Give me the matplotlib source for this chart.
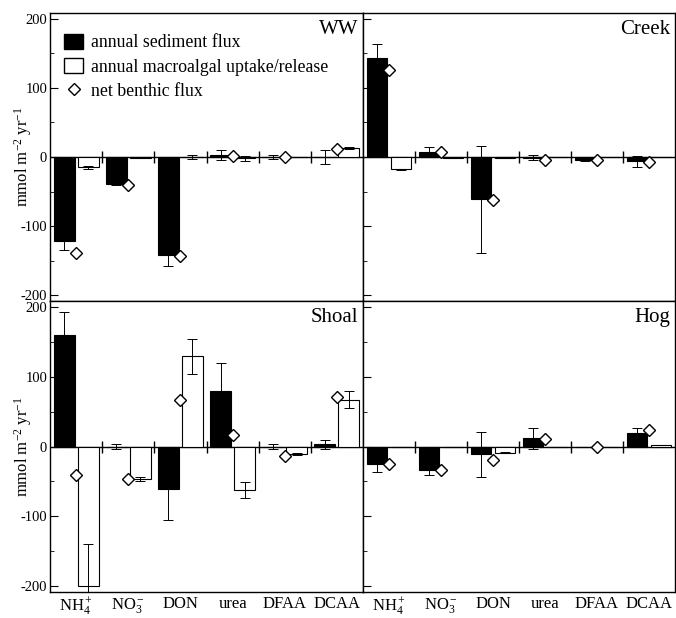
import matplotlib
matplotlib.use('Agg')
import matplotlib.pyplot as plt
from matplotlib.patches import Patch
from matplotlib.lines import Line2D
import numpy as np

plt.rcParams['font.family'] = ['Liberation Serif', 'DejaVu Serif']
plt.rcParams['mathtext.fontset'] = 'custom'
plt.rcParams['mathtext.rm'] = 'Liberation Serif'
plt.rcParams['mathtext.it'] = 'Liberation Serif:italic'
plt.rcParams['axes.unicode_minus'] = False

# categories
labels = ['NH$_4^+$', 'NO$_3^-$', 'DON', 'urea', 'DFAA', 'DCAA']

# WW
ww_sed = [-122, -39, -142, 3, 0, 0]
ww_sed_err = [13, 2, 16, 7, 3, 10]
ww_alg = [-15, -1, 0, -2, 0, 13]
ww_alg_err = [2, 0, 3, 4, 0, 1]
ww_net = [-138, -40, -143, 1, 0, 12]

# Creek
cr_sed = [143, 7, -61, -1, -4, -6]
cr_sed_err = [20, 7, 77, 4, 2, 8]
cr_alg = [-18, -1, -1, 0, 0, 0]
cr_alg_err = [1, 0, 0, 0, 0, 0]
cr_net = [126, 7, -62, -5, -5, -7]

# Shoal
sh_sed = [159, 0, -61, 79, 0, 3]
sh_sed_err = [33, 4, 44, 40, 4, 7]
sh_alg = [-200, -47, 129, -62, -11, 67]
sh_alg_err = [60, 3, 25, 11, 1, 12]
sh_net = [-41, -47, 67, 17, -13, 71]

# Hog
hg_sed = [-25, -33, -11, 12, 0, 20]
hg_sed_err = [11, 8, 32, 15, 0, 7]
hg_alg = [0, 0, -9, -1, 0, 2]
hg_alg_err = [0, 0, 1, 0, 0, 0]
hg_net = [-25, -33, -20, 11, 0, 23]

sites = [('WW', ww_sed, ww_sed_err, ww_alg, ww_alg_err, ww_net),
         ('Creek', cr_sed, cr_sed_err, cr_alg, cr_alg_err, cr_net),
         ('Shoal', sh_sed, sh_sed_err, sh_alg, sh_alg_err, sh_net),
         ('Hog', hg_sed, hg_sed_err, hg_alg, hg_alg_err, hg_net)]

fig = plt.figure(figsize=(6.76, 6.18), dpi=100)
L, M, R = 50 / 676, 363 / 676, 675 / 676
T, C, B = 1 - 13 / 618, 1 - 301 / 618, 1 - 592 / 618
boxes = [[L, C, M - L, T - C], [M, C, R - M, T - C],
         [L, B, M - L, C - B], [M, B, R - M, C - B]]

x = np.arange(len(labels))
w = 0.40
for k, (name, sed, sed_err, alg, alg_err, net) in enumerate(sites):
    ax = fig.add_axes(boxes[k])
    ax.bar(x + 0.27, sed, w, color='black', edgecolor='black', lw=0.8, zorder=2)
    ax.bar(x + 0.73, alg, w, color='white', edgecolor='black', lw=0.8, zorder=2)
    ax.errorbar(x + 0.27, sed, yerr=sed_err, fmt='none', ecolor='black',
                elinewidth=0.7, capsize=3.5, capthick=0.7, zorder=3)
    ax.errorbar(x + 0.73, alg, yerr=alg_err, fmt='none', ecolor='black',
                elinewidth=0.7, capsize=3.5, capthick=0.7, zorder=3)
    ax.plot(x + 0.5, net, 'D', mfc='white', mec='black', mew=1.0, ms=6.3,
            zorder=4, clip_on=False)
    # zero line with group separators
    ax.axhline(0, color='black', lw=1.0, zorder=1)
    ax.plot(x[1:], np.zeros(len(x) - 1), '|', color='black', ms=8, mew=1.0, zorder=1)

    ax.set_xlim(0, len(labels))
    ax.set_ylim(-208, 208)
    ax.set_yticks([-200, -100, 0, 100, 200])
    ax.set_yticks([-150, -50, 50, 150], minor=True)
    ax.tick_params(axis='y', which='both', direction='in', left=True, right=False)
    ax.tick_params(axis='y', which='major', length=6, labelsize=10.5, pad=2)
    ax.tick_params(axis='y', which='minor', length=3)
    for s in ax.spines.values():
        s.set_linewidth(1.0)
    ax.text(0.985, 0.975, name, transform=ax.transAxes, ha='right', va='top',
            fontsize=15)
    if k % 2 == 1:
        ax.set_yticklabels([])
    else:
        ax.set_ylabel('mmol m$^{-2}$ yr$^{-1}$', fontsize=12)
        ax.yaxis.set_label_coords(-0.05, 0.5)
    if k >= 2:
        ax.set_xticks(x + 0.5)
        ax.set_xticklabels(labels, fontsize=12)
        ax.tick_params(axis='x', length=0, pad=3)
    else:
        ax.set_xticks([])

    # legend in first panel
    if k == 0:
        handles = [Patch(facecolor='black', edgecolor='black'),
                   Patch(facecolor='white', edgecolor='black'),
                   Line2D([], [], marker='D', ls='none', mfc='white', mec='black', ms=6)]
        ax.legend(handles, ['annual sediment flux', 'annual macroalgal uptake/release',
                            'net benthic flux'],
                  loc='upper left', bbox_to_anchor=(0.01, 0.965), frameon=False,
                  fontsize=12.8, handlelength=1.1, handleheight=0.9, handletextpad=0.45,
                  labelspacing=0.38, borderaxespad=0.2)

plt.savefig('out.png', dpi=100)
